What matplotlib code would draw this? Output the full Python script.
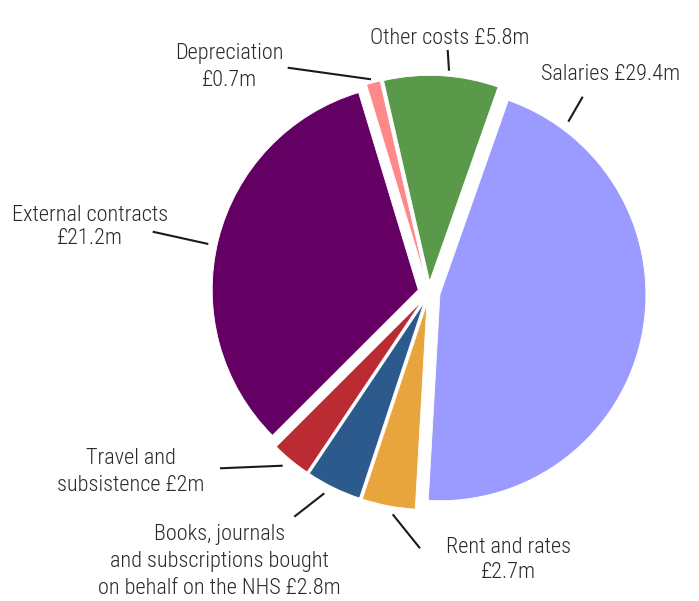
import matplotlib
matplotlib.use("Agg")
import matplotlib.pyplot as plt

# Spending breakdown (£m)
categories = ["Salaries", "Rent and rates",
              "Books, journals and subscriptions bought on behalf on the NHS",
              "Travel and subsistence", "External contracts", "Depreciation",
              "Other costs"]
values = [29.4, 2.7, 2.8, 2.0, 21.2, 0.7, 5.8]
colors = ["#9b9bff", "#e8a53e", "#2d5a8c", "#bb2b33", "#640064", "#ff8888", "#5b994a"]

# label lines, anchor (centre x, first baseline y in px), line gap, leader line in px
labels = [
    (["Salaries £29.4m"], (611, 80.5), 0, [(582.7, 96.7), (568.3, 121.7)]),
    (["Rent and rates", "£2.7m"], (508, 553), 25.5, [(392.7, 514.3), (420, 548.3)]),
    (["Books, journals", "and subscriptions bought", "on behalf on the NHS £2.8m"],
     (219.5, 540), 27, [(294.3, 516.7), (324.3, 493.3)]),
    (["Travel and", "subsistence £2m"], (131, 464.3), 26.5, [(220, 468.3), (282.7, 465.7)]),
    (["External contracts", "£21.2m"], (90, 220.7), 23.5, [(152.7, 231.7), (208.3, 244)]),
    (["Depreciation", "£0.7m"], (229, 59.5), 27, [(287.7, 67.7), (371, 79.3)]),
    (["Other costs £5.8m"], (450, 44.3), 0, [(447.7, 50), (449, 70.7)]),
]

W, H = 699, 601
CX, CY, R = 429, 292.5, 206.0


def px(x, y):
    return (x - CX) / R, (CY - y) / R


fig = plt.figure(figsize=(W / 100, H / 100), dpi=100)
ax = fig.add_axes([0, 0, 1, 1])

ax.pie(values, colors=colors, startangle=70.6, counterclock=False,
       explode=[0.054] * len(values), radius=1.0,
       wedgeprops=dict(edgecolor="white", linewidth=0.6))

font = ["Roboto Condensed", "DejaVu Sans"]
for lines, (tx, ty), gap, leader in labels:
    for i, line in enumerate(lines):
        x, y = px(tx, ty + i * gap)
        ax.text(x, y, line, ha="center", va="baseline", fontsize=16,
                family=font, fontstretch="condensed", fontweight="light",
                color="#2a2a2a")
    (x0, y0), (x1, y1) = px(*leader[0]), px(*leader[1])
    ax.plot([x0, x1], [y0, y1], color="#1a1a1a", lw=1.5, solid_capstyle="butt")

ax.set_aspect("auto")
ax.set_xlim(-CX / R, (W - CX) / R)
ax.set_ylim(-(H - CY) / R, CY / R)
ax.axis("off")

fig.savefig("out.png", dpi=100, facecolor="white")
